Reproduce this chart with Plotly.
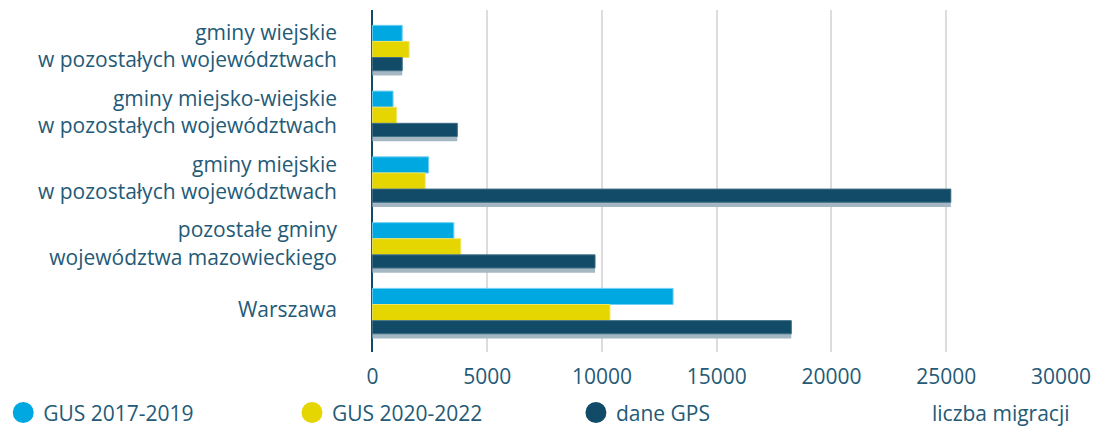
import plotly.graph_objects as go

categories = [
    "gminy wiejskie<br>w pozostałych województwach",
    "gminy miejsko-wiejskie<br>w pozostałych województwach",
    "gminy miejskie<br>w pozostałych województwach",
    "pozostałe gminy<br>województwa mazowieckiego",
    "Warszawa",
]
gus_2017_2019 = [1300, 900, 2450, 3550, 13100]
gus_2020_2022 = [1600, 1050, 2300, 3850, 10350]
dane_gps = [1300, 3700, 25200, 9700, 18250]

series_names = ["GUS 2017-2019", "GUS 2020-2022", "dane GPS"]
colors = ["#00a8e1", "#e5d500", "#124b67"]
edge_colors = ["#6fd0f2", "#f0e460", "#3f6f86"]
shadow_color = "#a4b7c3"
text_color = "#245a76"

fig = go.Figure()

# shadow under GPS bars
fig.add_trace(go.Bar(
    y=categories, x=dane_gps, orientation="h",
    marker=dict(color=shadow_color, line=dict(width=0)),
    width=0.27, offset=0.125, showlegend=False, hoverinfo="skip",
))
fig.add_trace(go.Bar(
    y=categories, x=gus_2017_2019, orientation="h", name=series_names[0],
    marker=dict(color=colors[0], line=dict(color=edge_colors[0], width=1)),
    width=0.245, offset=-0.367, showlegend=False,
))
fig.add_trace(go.Bar(
    y=categories, x=gus_2020_2022, orientation="h", name=series_names[1],
    marker=dict(color=colors[1], line=dict(color=edge_colors[1], width=1)),
    width=0.245, offset=-0.122, showlegend=False,
))
fig.add_trace(go.Bar(
    y=categories, x=dane_gps, orientation="h", name=series_names[2],
    marker=dict(color=colors[2], line=dict(color=edge_colors[2], width=1)),
    width=0.2, offset=0.123, showlegend=False,
))

# legend entries (circles), each in its own legend box
legend_ids = ["legend", "legend2", "legend3"]
for name, c, lid in zip(series_names, colors, legend_ids):
    fig.add_trace(go.Scatter(
        x=[None], y=[None], mode="markers", name=name, legend=lid,
        marker=dict(color=c, size=16, symbol="circle", line=dict(color=c, width=5)),
    ))

legend_style = dict(
    orientation="h", xanchor="left", y=-0.178, yanchor="middle",
    itemsizing="trace",
    font=dict(family="Open Sans", size=21, color=text_color),
    bgcolor="rgba(0,0,0,0)",
)

fig.update_layout(
    width=1093, height=426,
    margin=dict(l=371, r=32, t=10, b=74, autoexpand=False),
    paper_bgcolor="white", plot_bgcolor="white",
    barmode="overlay",
    font=dict(family="Open Sans", size=21, color=text_color),
    showlegend=True,
    legend=dict(x=-0.533, **legend_style),
    legend2=dict(x=-0.1145, **legend_style),
    legend3=dict(x=0.297, **legend_style),
    xaxis=dict(
        range=[-60, 30000], tickvals=[0, 5000, 10000, 15000, 20000, 25000, 30000],
        ticktext=["0", "5000", "10000", "15000", "20000", "25000", "30000"],
        showgrid=True, gridcolor="#dcdcdc", gridwidth=2,
        zeroline=True, zerolinecolor="#124b67", zerolinewidth=2,
        showline=False, ticks="", ticklabelstandoff=10,
        tickfont=dict(size=21, color=text_color),
    ),
    yaxis=dict(
        type="category", categoryorder="array", categoryarray=categories,
        range=[4.6, -0.6], showgrid=False, zeroline=False,
        showline=False,
        ticks="", ticklabelstandoff=33, ticklabelshift=3,
        tickfont=dict(size=21, color=text_color),
    ),
    annotations=[dict(
        text="liczba migracji", xref="paper", yref="paper",
        x=1.016, y=-0.178, xanchor="right", yanchor="middle",
        showarrow=False, font=dict(size=21, color=text_color),
    )],
)

fig.write_html(
    "out.html",
    config={"displayModeBar": False},
    post_script="document.body.style.margin='0';document.body.style.overflow='hidden';",
)
